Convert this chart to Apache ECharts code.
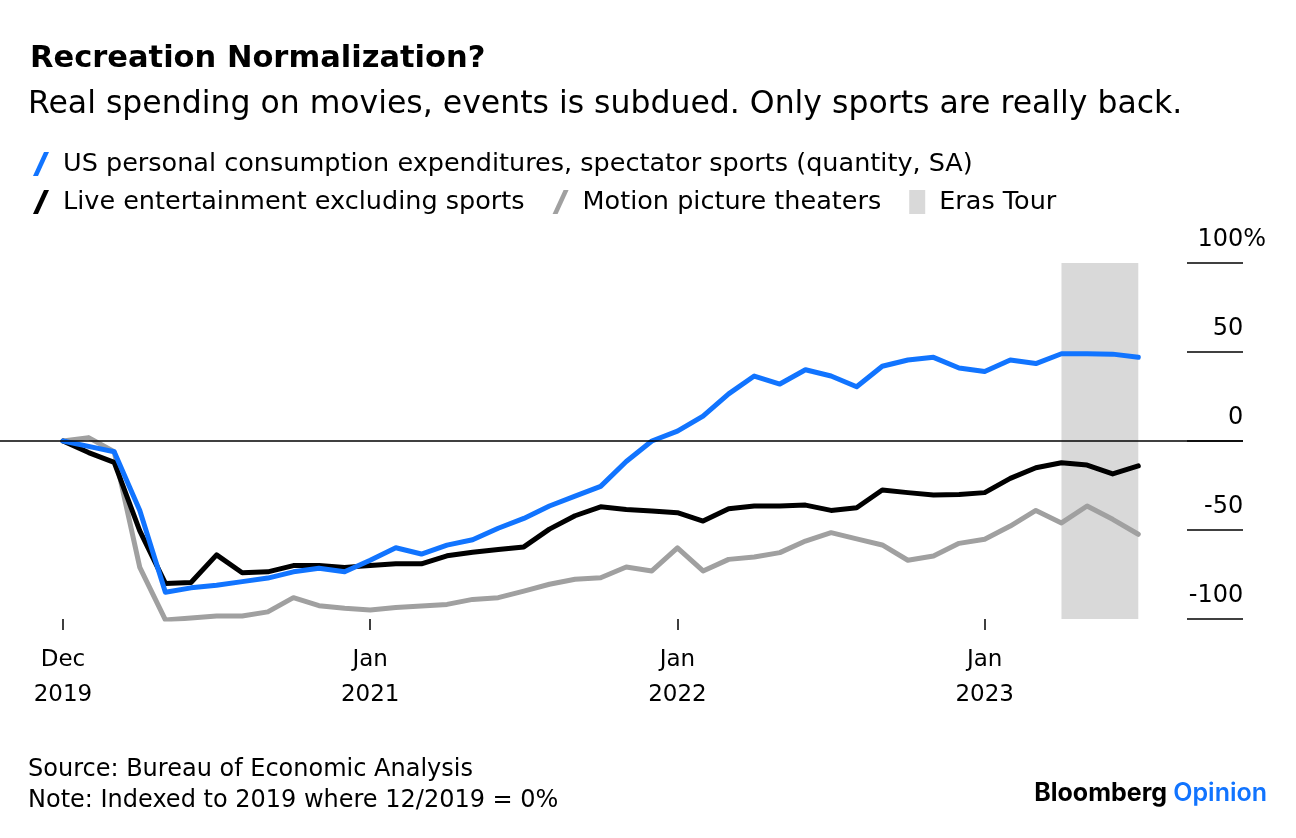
<!DOCTYPE html>
<html>
<head>
<meta charset="utf-8">
<script src="https://cdn.jsdelivr.net/npm/echarts@6/dist/echarts.min.js"></script>
<style>
html,body{margin:0;padding:0;background:#fff;}
#c{width:1296px;height:838px;}
</style>
</head>
<body>
<div id="c"></div>
<script>
// Month-end observations, Dec 2019 (index 0) ... Jun 2023 (index 42)
const months = ['Dec 2019','Jan 2020','Feb 2020','Mar 2020','Apr 2020','May 2020','Jun 2020','Jul 2020','Aug 2020','Sep 2020','Oct 2020','Nov 2020','Dec 2020',
  'Jan 2021','Feb 2021','Mar 2021','Apr 2021','May 2021','Jun 2021','Jul 2021','Aug 2021','Sep 2021','Oct 2021','Nov 2021','Dec 2021',
  'Jan 2022','Feb 2022','Mar 2022','Apr 2022','May 2022','Jun 2022','Jul 2022','Aug 2022','Sep 2022','Oct 2022','Nov 2022','Dec 2022',
  'Jan 2023','Feb 2023','Mar 2023','Apr 2023','May 2023','Jun 2023'];

const sports = [0,-3,-6,-39,-85,-82.5,-81,-79,-77,-73.5,-71.5,-73.5,-67,
  -60,-63.5,-58.5,-55.5,-49,-43.5,-36.5,-31,-25.5,-11.5,0,5.5,
  14,26.5,36.5,32,40,36.5,30.5,42,45.5,47,41,39,
  45.5,43.5,49,49,48.8,47];

const live = [0,-6.5,-12,-50.5,-80,-79.5,-64,-74,-73.5,-70,-70,-71,-70,
  -69,-69,-64.5,-62.5,-61,-59.5,-49.5,-42,-37,-38.5,-39.3,-40.3,
  -45,-38,-36.5,-36.5,-36,-39,-37.5,-27.5,-29,-30.3,-30,-29,
  -21,-15,-12.2,-13.5,-18.5,-14];

const movies = [0,1.9,-6,-71,-100.5,-99.5,-98.3,-98.3,-96,-88,-92.5,-94,-95,
  -93.6,-92.7,-91.8,-89,-88,-84.3,-80.5,-77.7,-76.8,-70.8,-73,-60,
  -73,-66.5,-65.2,-62.7,-56.2,-51.5,-55,-58.4,-67,-64.6,-57.5,-55.2,
  -47.8,-39,-46,-36.5,-44,-52.4];

const erasTour = [39, 42]; // month indices: Mar 2023 .. Jun 2023

const xTickValues = [0, 12, 24, 36];
const xTickLabels = ['Dec\n2019', 'Jan\n2021', 'Jan\n2022', 'Jan\n2023'];

const seriesNames = ['US personal consumption expenditures, spectator sports (quantity, SA)',
  'Live entertainment excluding sports', 'Motion picture theaters', 'Eras Tour'];

const BLUE = '#1174ff', BLACK = '#000000', GRAY = '#a0a0a0', SHADE = '#d9d9d9';
const FONT = '"DejaVu Sans", Verdana, sans-serif';
const slash = 'path://M11,0 L16,0 L5,24 L0,24 Z';

const toPairs = arr => arr.map((v, i) => [i, v]);

const chart = echarts.init(document.getElementById('c'), null, {renderer: 'canvas'});
chart.setOption({
  backgroundColor: '#fff',
  animation: false,
  textStyle: {fontFamily: FONT},
  title: [
    {text: 'Recreation Normalization?', left: 25, top: 39,
      textStyle: {fontFamily: FONT, fontSize: 30.5, fontWeight: 'bold', color: '#000'}},
    {text: 'Real spending on movies, events is subdued. Only sports are really back.', left: 23, top: 84,
      textStyle: {fontFamily: FONT, fontSize: 31.5, fontWeight: 'normal', color: '#000'}},
    {text: 'Source: Bureau of Economic Analysis\nNote: Indexed to 2019 where 12/2019 = 0%', left: 23, top: 749,
      textStyle: {fontFamily: FONT, fontSize: 24, lineHeight: 31, fontWeight: 'normal', color: '#000'}},
    {text: '{b|Bloomberg} {o|Opinion}', right: 24, top: 776,
      textStyle: {rich: {
        b: {fontFamily: 'Inter, Roboto, sans-serif', fontSize: 25, fontWeight: 700, color: '#000'},
        o: {fontFamily: 'Inter, Roboto, sans-serif', fontSize: 25, fontWeight: 600, color: BLUE}
      }}}
  ],
  legend: [
    {left: 28, top: 146, itemWidth: 16, itemHeight: 24, itemGap: 26,
      data: [{name: seriesNames[0], icon: slash}],
      textStyle: {fontFamily: FONT, fontSize: 25.5, color: '#000', padding: [0, 0, 0, 9]}},
    {left: 28, top: 184, itemWidth: 16, itemHeight: 24, itemGap: 28,
      data: [{name: seriesNames[1], icon: slash}, {name: seriesNames[2], icon: slash},
             {name: seriesNames[3], icon: 'rect', itemStyle: {color: SHADE}}],
      textStyle: {fontFamily: FONT, fontSize: 25.5, color: '#000', padding: [0, 0, 0, 9]}}
  ],
  grid: [
    {left: 0, right: 53, top: 263, bottom: 219},
    {left: 1187, right: 53, top: 263, bottom: 219}
  ],
  xAxis: [
    {type: 'value', gridIndex: 0, min: -2.46, max: 46.09,
      axisLine: {show: false, onZero: false},
      splitLine: {show: false},
      axisTick: {show: true, customValues: xTickValues, length: 11, lineStyle: {color: '#000', width: 1.5}},
      axisLabel: {show: true, customValues: xTickValues, margin: 24,
        formatter: v => xTickLabels[xTickValues.indexOf(v)] || '',
        fontFamily: FONT, fontSize: 23, lineHeight: 35, color: '#000'}},
    {type: 'value', gridIndex: 1, min: 0, max: 1, show: false}
  ],
  yAxis: [
    {type: 'value', gridIndex: 0, min: -100, max: 100, interval: 50, show: false},
    {type: 'value', gridIndex: 1, min: -100, max: 100, interval: 50, position: 'right', offset: 23,
      axisLine: {show: false}, axisTick: {show: false},
      splitLine: {show: true, lineStyle: {color: '#000', width: 1.5}},
      axisLabel: {inside: true, margin: 0, verticalAlign: 'bottom', padding: [0, 0, 11, 0],
        fontFamily: FONT, fontSize: 24, color: '#000',
        formatter: v => v === 100 ? '100%' : v + '{h|%}',
        rich: {h: {fontFamily: FONT, fontSize: 24, color: 'rgba(0,0,0,0)'}}}}
  ],
  series: [
    {name: seriesNames[3], type: 'line', xAxisIndex: 0, yAxisIndex: 0, data: [],
      itemStyle: {color: SHADE}, lineStyle: {color: SHADE},
      markArea: {silent: true, itemStyle: {color: SHADE},
        data: [[{xAxis: erasTour[0]}, {xAxis: erasTour[1]}]]},
      markLine: {silent: true, symbol: 'none', label: {show: false},
        lineStyle: {color: '#000', width: 1.5, type: 'solid'},
        data: [{yAxis: 0}]}},
    {name: seriesNames[2], type: 'line', xAxisIndex: 0, yAxisIndex: 0, data: toPairs(movies),
      showSymbol: false, symbol: 'none', lineStyle: {color: GRAY, width: 5, join: 'round', cap: 'round'}, itemStyle: {color: GRAY}},
    {name: seriesNames[1], type: 'line', xAxisIndex: 0, yAxisIndex: 0, data: toPairs(live),
      showSymbol: false, symbol: 'none', lineStyle: {color: BLACK, width: 5, join: 'round', cap: 'round'}, itemStyle: {color: BLACK}},
    {name: seriesNames[0], type: 'line', xAxisIndex: 0, yAxisIndex: 0, data: toPairs(sports),
      showSymbol: false, symbol: 'none', lineStyle: {color: BLUE, width: 5, join: 'round', cap: 'round'}, itemStyle: {color: BLUE}}
  ]
});
</script>
</body>
</html>
